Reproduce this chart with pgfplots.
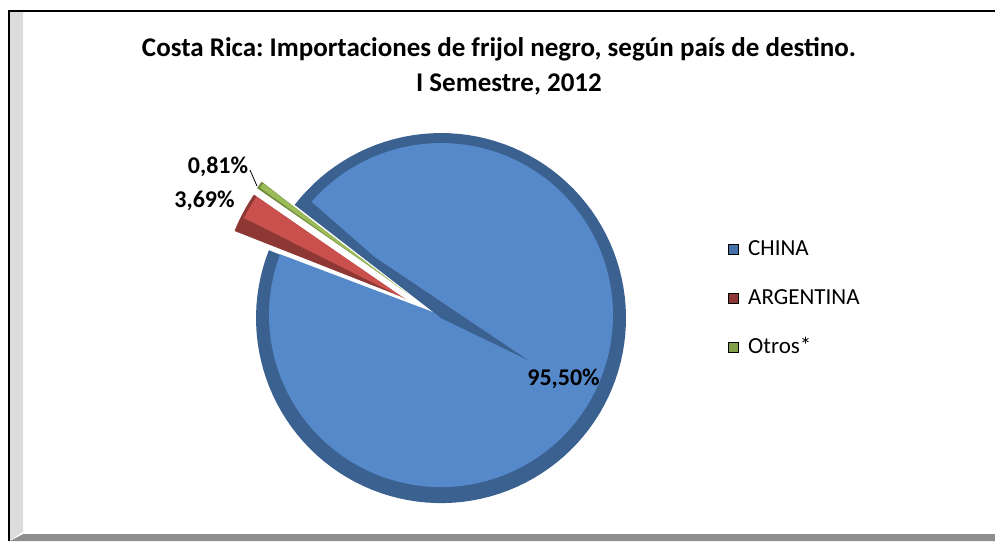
\documentclass[border=0pt]{standalone}
\usepackage{fontspec}
\setmainfont{Carlito}
\usepackage{pgfplots}
\usepackage{pgfplotstable}
\pgfplotsset{compat=1.18}
\frenchspacing

\definecolor{chinaface}{HTML}{5689CA}
\definecolor{chinarim}{HTML}{3B6191}
\definecolor{argface}{HTML}{C9504D}
\definecolor{argdark}{HTML}{8E3835}
\definecolor{otrface}{HTML}{9BBB59}
\definecolor{otrdark}{HTML}{6F8A3A}
\definecolor{framegray}{HTML}{8E8E8E}
\definecolor{stripgray}{HTML}{DCDCDC}

% share of imports, percent
\pgfplotstableread{
pais share
CHINA 95.50
ARGENTINA 3.69
Otros 0.81
}\shares

\begin{document}
\begin{tikzpicture}
\pgfplotstablegetelem{0}{share}\of\shares \let\vChina\pgfplotsretval
\pgfplotstablegetelem{1}{share}\of\shares \let\vArg\pgfplotsretval
\pgfplotstablegetelem{2}{share}\of\shares \let\vOtr\pgfplotsretval
% slices run clockwise from the first-slice angle
\pgfmathsetmacro\aS{142.3}
\pgfmathsetmacro\aA{\aS-3.6*\vChina}
\pgfmathsetmacro\aB{\aA-3.6*\vArg}
\pgfmathsetmacro\aC{\aB-3.6*\vOtr}
\pgfmathsetmacro\mArg{(\aA+\aB)/2}
\pgfmathsetmacro\mOtr{(\aB+\aC)/2}
\pgfmathsetmacro\xArg{441+40*cos(\mArg)}
\pgfmathsetmacro\yArg{223+40*sin(\mArg)}
\pgfmathsetmacro\xOtr{441+41*cos(\mOtr)}
\pgfmathsetmacro\yOtr{223+41*sin(\mOtr)}
\pgfmathsetmacro\aArgHi{\mArg+1.5}
\pgfmathsetmacro\aFace{\aS-3.5}
\pgfmathsetmacro\aFaceEnd{\aA+0.8}
\begin{axis}[
  width=497.5pt, height=270.5pt, scale only axis,
  xmin=0, xmax=995, ymin=0, ymax=541,
  hide axis,
  legend style={at={(axis cs:728,302.6)}, anchor=north west, draw=none,
    fill=none, inner sep=0pt, row sep=13.5pt, column sep=4.5pt,
    font=\fontsize{11.5}{13.5}\selectfont,
    nodes={inner sep=0pt, text height=8.5pt, text depth=2.5pt}},
  legend cell align=left,
  legend image code/.code={\fill[#1] (0pt,-2.5pt) rectangle (5pt,2.5pt);},
]
% keep the whole chart area as the picture
\path (axis cs:0,0) rectangle (axis cs:995,541);
% chart frame
\addplot[forget plot, draw=none, fill=stripgray] coordinates {(10,530) (23,530) (23,10) (10,0)} -- cycle;
\addplot[forget plot, draw=none, fill=framegray] coordinates {(10,0) (995,0) (995,7) (23,7)} -- cycle;
\addplot[forget plot, black, line width=1pt] coordinates {(9,0) (9,530.5) (995,530.5)};

% CHINA: rim, face, side band
\addplot[forget plot, draw=none, fill=chinarim, domain=\aA:\aS, samples=120, variable=\t]
  ({441+185*cos(\t)}, {223+185*sin(\t)}) -- (axis cs:441,223) -- cycle;
\addplot[forget plot, draw=none, fill=chinaface, domain=\aFaceEnd:\aFace, samples=120, variable=\t]
  ({441+172*cos(\t)}, {226+172*sin(\t)}) -- (axis cs:441,226) -- cycle;
\addplot[forget plot, draw=none, fill=chinarim] coordinates {(297,336) (528,181) (441,223) (310,330)} -- cycle;

% ARGENTINA, exploded
\addplot[forget plot, draw=white, line width=0.6pt, fill=argdark, domain=\aB:\aA, samples=20, variable=\t]
  ({\xArg+185*cos(\t)}, {\yArg+185*sin(\t)}) -- (axis cs:\xArg,\yArg) -- cycle;
\addplot[forget plot, draw=none, fill=argface, domain=\aB+0.3:\aArgHi, samples=20, variable=\t]
  ({\xArg+181*cos(\t)}, {\yArg+181*sin(\t)}) -- (axis cs:\xArg,\yArg) -- cycle;

% Otros, exploded
\addplot[forget plot, draw=white, line width=0.6pt, fill=otrdark, domain=\aC:\aB, samples=10, variable=\t]
  ({\xOtr+185*cos(\t)}, {\yOtr+185*sin(\t)}) -- (axis cs:\xOtr,\yOtr) -- cycle;
\addplot[forget plot, draw=none, fill=otrface, domain=\aC+0.4:\mOtr+0.6, samples=10, variable=\t]
  ({\xOtr+182*cos(\t)}, {\yOtr+182*sin(\t)}) -- (axis cs:\xOtr,\yOtr) -- cycle;

% leader line for the small slice
\addplot[forget plot, black, line width=0.4pt] coordinates {(250,371) (257,355)};

\addlegendimage{fill=chinarim!60!chinaface}
\addlegendentry{CHINA}
\addlegendimage{fill=argdark}
\addlegendentry{ARGENTINA}
\addlegendimage{fill=otrface!85!black}
\addlegendentry{Otros*}

% title and data labels
\node[anchor=base, font=\fontsize{13.5}{16}\selectfont\bfseries] at (axis cs:499,485)
  {Costa Rica: Importaciones de frijol negro, según país de destino.};
\node[anchor=base, font=\fontsize{13.5}{16}\selectfont\bfseries] at (axis cs:509,450) {I Semestre, 2012};
\node[anchor=base, font=\fontsize{12}{14}\selectfont\bfseries] at (axis cs:218,368) {0,81\%};
\node[anchor=base, font=\fontsize{12}{14}\selectfont\bfseries] at (axis cs:204.5,334) {3,69\%};
\node[anchor=base, font=\fontsize{12}{14}\selectfont\bfseries] at (axis cs:563.5,156) {95,50\%};
\end{axis}
\end{tikzpicture}
\end{document}
